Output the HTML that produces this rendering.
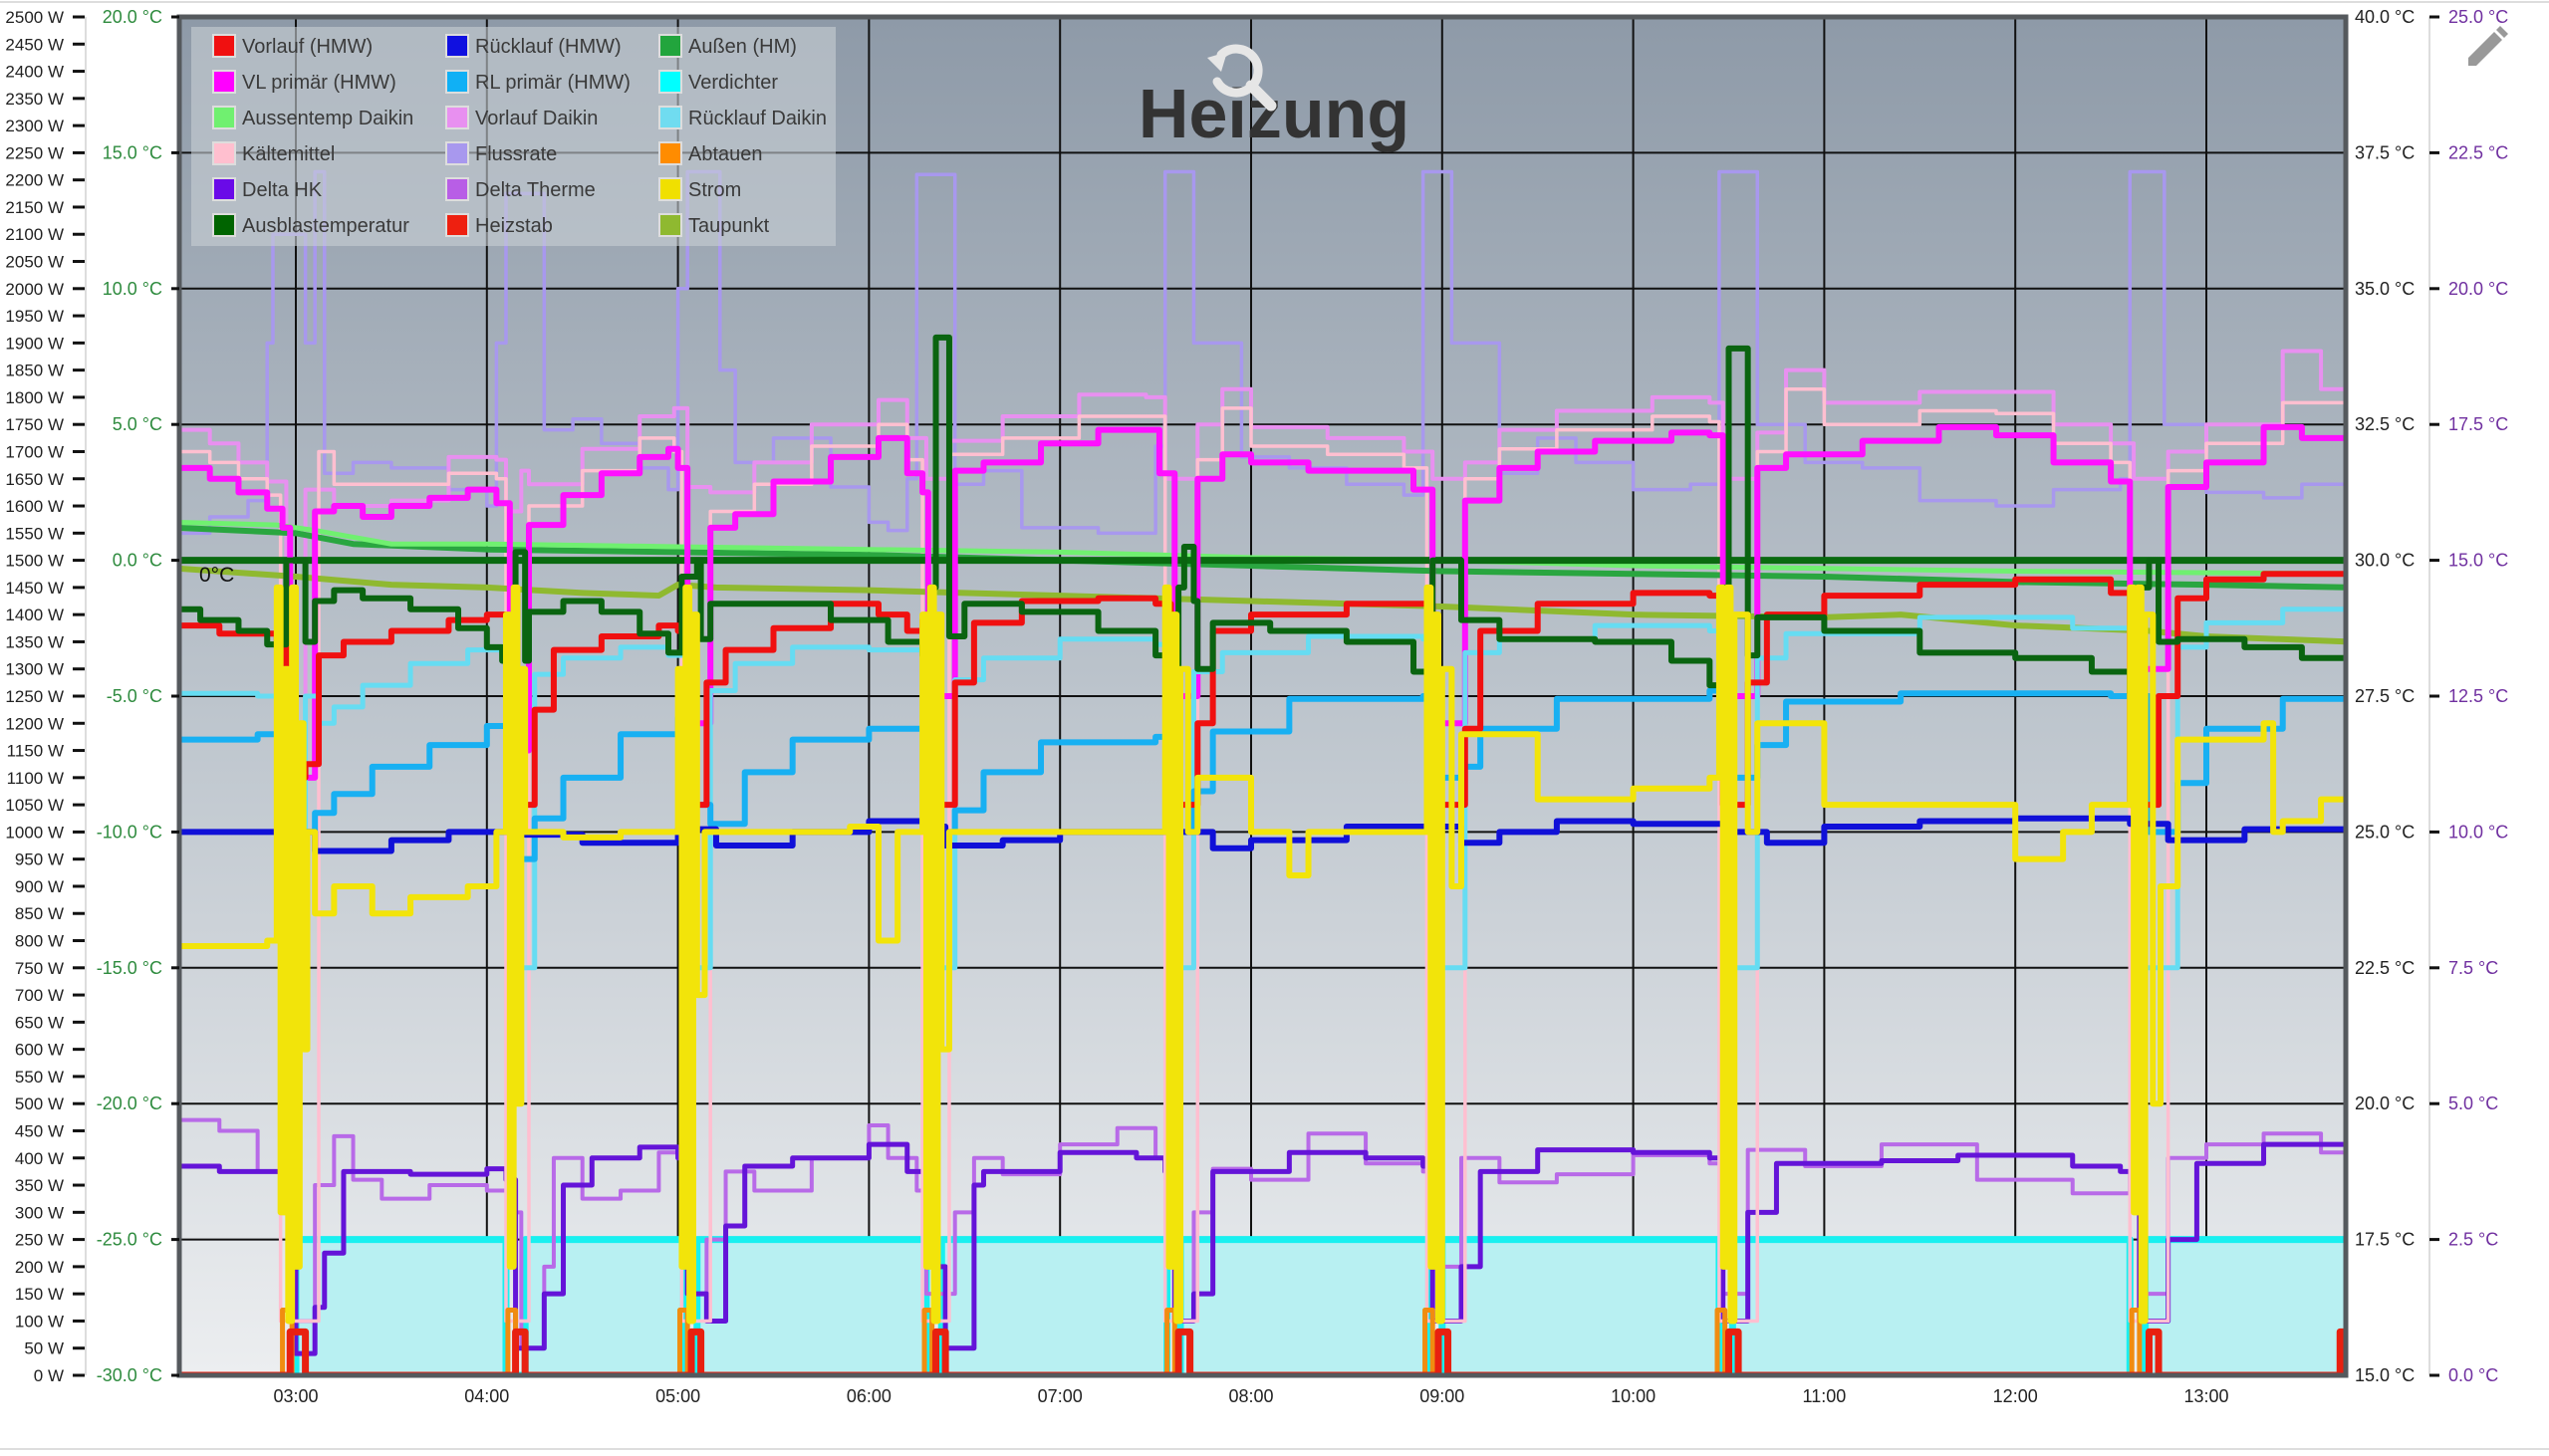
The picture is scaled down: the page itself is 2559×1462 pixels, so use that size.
<!DOCTYPE html>
<html><head><meta charset="utf-8"><title>Heizung</title>
<style>
html,body{margin:0;padding:0;background:#fff;}
body{width:2559px;height:1457px;overflow:hidden;font-family:"Liberation Sans",sans-serif;}
svg text{font-family:"Liberation Sans",sans-serif;}
</style></head>
<body>
<svg id="chart" width="2559" height="1457" viewBox="0 0 2559 1457" xmlns="http://www.w3.org/2000/svg">
<defs>
<linearGradient id="bg" x1="0" y1="0" x2="0" y2="1">
<stop offset="0" stop-color="#8e9aa8"/>
<stop offset="0.5" stop-color="#bcc4cc"/>
<stop offset="1" stop-color="#eceef0"/>
</linearGradient>
<clipPath id="plotclip"><rect x="180" y="17" width="2175" height="1364"/></clipPath>
</defs>
<line x1="0" y1="2" x2="2559" y2="2" stroke="#ddd" stroke-width="2"/>
<line x1="0" y1="1455" x2="2559" y2="1455" stroke="#ddd" stroke-width="2"/>
<rect x="180" y="17" width="2175" height="1364" fill="url(#bg)"/>
<g id="grid"></g>
<g id="series" clip-path="url(#plotclip)"></g>
<rect x="180" y="17" width="2175" height="1364" fill="none" stroke="#55595d" stroke-width="5"/>
<g id="axes"></g>
<text x="200" y="584" font-size="21" fill="#111">0°C</text>
<g>
<rect x="192" y="27" width="647" height="220" fill="#c8ced4" fill-opacity="0.6"/>
<g id="legend"></g>
</g>
<text x="1279" y="138" font-size="70" font-weight="bold" fill="#333" text-anchor="middle">Heizung</text>
<g stroke="#e6e6e6" fill="none" stroke-linecap="round">
<path d="M1226 55 A22 22 0 1 1 1222 82" stroke-width="9"/>
<line x1="1256" y1="86" x2="1276" y2="106" stroke-width="11"/>
<polygon points="1212,58 1232,52 1226,72" fill="#e6e6e6" stroke="none"/>
</g>
<g fill="#999">
<polygon points="2478,58 2504,32 2512,40 2486,66 2478,66"/>
<polygon points="2506,30 2510,26 2518,34 2514,38"/>
</g>
</svg>
<script>
// ---- axis data ----
const wTicks = [0,50,100,150,200,250,300,350,400,450,500,550,600,650,700,750,800,850,900,950,1000,1050,1100,1150,1200,1250,1300,1350,1400,1450,1500,1550,1600,1650,1700,1750,1800,1850,1900,1950,2000,2050,2100,2150,2200,2250,2300,2350,2400,2450,2500];
const cLeftTicks = [-30,-25,-20,-15,-10,-5,0,5,10,15,20];
const cRightTicks = [15,17.5,20,22.5,25,27.5,30,32.5,35,37.5,40];
const cPurpleTicks = [0,2.5,5,7.5,10,12.5,15,17.5,20,22.5,25];
const hourTicks = [3,4,5,6,7,8,9,10,11,12,13];
const hourLabels = ["03:00","04:00","05:00","06:00","07:00","08:00","09:00","10:00","11:00","12:00","13:00"];

// ---- series data (time in hours, temperatures in left-axis °C, power in W) ----
const vlPrimaer = [[2.38,3.4],[2.55,3.0],[2.7,2.5],[2.85,1.9],[2.93,1.2],[2.97,-8],[3.1,1.8],[3.2,2.0],[3.35,1.6],[3.5,2.0],[3.7,2.3],[3.9,2.6],[4.05,2.1],[4.12,-7],[4.22,1.3],[4.4,2.4],[4.6,3.2],[4.8,3.8],[4.95,4.1],[5.0,3.4],[5.05,-6],[5.17,1.2],[5.3,1.7],[5.5,2.9],[5.8,3.8],[6.05,4.5],[6.2,3.2],[6.28,2.5],[6.31,-5],[6.45,3.3],[6.6,3.6],[6.9,4.3],[7.2,4.8],[7.45,4.8],[7.52,3.2],[7.6,-5],[7.72,3.0],[7.85,3.9],[8.0,3.6],[8.3,3.3],[8.6,3.3],[8.85,2.6],[8.95,-6],[9.12,2.2],[9.3,3.4],[9.5,4.0],[9.8,4.4],[10.2,4.7],[10.4,4.6],[10.47,-5],[10.65,3.4],[10.8,3.9],[11.2,4.4],[11.6,4.9],[11.9,4.6],[12.2,3.6],[12.5,2.9],[12.6,-4],[12.8,2.7],[13.0,3.6],[13.3,4.9],[13.5,4.5],[13.75,4.3]];
const kaeltemittel = [[2.38,4.0],[2.55,3.6],[2.7,3.0],[2.85,2.4],[2.92,-28],[3.12,4.0],[3.2,2.8],[3.5,2.8],[3.8,3.2],[4.05,3.0],[4.1,-28],[4.22,2.0],[4.5,3.3],[4.8,4.5],[4.98,4.0],[5.02,-28],[5.17,1.8],[5.4,2.8],[5.7,4.2],[6.05,5.0],[6.2,3.7],[6.28,-28],[6.42,3.9],[6.7,4.5],[7.1,5.3],[7.45,5.3],[7.55,-28],[7.72,3.7],[7.85,5.6],[8.0,4.2],[8.4,3.9],[8.8,3.4],[8.92,-28],[9.12,3.0],[9.3,4.1],[9.6,4.8],[10.1,5.3],[10.4,5.1],[10.45,-28],[10.65,4.0],[10.8,6.3],[11.0,5.0],[11.5,5.5],[11.9,5.4],[12.2,4.3],[12.5,3.6],[12.6,-28],[12.8,3.3],[13.0,4.3],[13.4,5.8],[13.75,5.2]];
const vorlaufDaikin = [[2.38,4.8],[2.55,4.3],[2.7,3.6],[2.85,2.9],[2.95,-6],[3.05,2.6],[3.2,2.0],[3.5,2.2],[3.8,3.8],[4.05,3.7],[4.1,1.8],[4.18,3.3],[4.22,2.8],[4.5,4.1],[4.8,5.3],[4.98,5.6],[5.05,2.7],[5.17,2.5],[5.4,3.6],[5.7,5.0],[6.05,5.9],[6.2,4.5],[6.3,3],[6.42,4.4],[6.7,5.3],[7.1,6.1],[7.45,6.0],[7.55,3],[7.72,5.0],[7.85,6.3],[8.0,4.9],[8.4,4.5],[8.8,4.0],[8.95,3],[9.12,3.6],[9.3,4.8],[9.6,5.5],[10.1,6.0],[10.4,5.8],[10.47,3],[10.65,4.7],[10.8,7.0],[11.0,5.8],[11.5,6.2],[11.9,6.2],[12.2,5.0],[12.5,4.3],[12.62,3],[12.8,4.0],[13.0,5.0],[13.4,7.7],[13.6,6.3],[13.75,6.0]];
const flussrate = [[2.38,1.0],[2.55,1.6],[2.75,2.2],[2.85,8],[2.88,12],[3.0,12],[3.05,8],[3.1,14.3],[3.15,3.2],[3.3,3.6],[3.5,3.4],[3.8,2.6],[4.0,2.0],[4.05,8],[4.1,13.5],[4.25,13.5],[4.3,4.8],[4.45,5.2],[4.6,4.3],[4.8,3.4],[4.95,2.6],[5.0,10],[5.05,14.3],[5.18,14.3],[5.22,7],[5.3,3.6],[5.5,4.5],[5.8,2.7],[6.0,1.4],[6.1,1.1],[6.2,3.0],[6.25,14.2],[6.4,14.2],[6.45,2.8],[6.6,3.3],[6.8,1.2],[7.2,1.0],[7.5,4.2],[7.55,14.3],[7.68,14.3],[7.7,8.0],[7.85,8.0],[7.95,3.8],[8.2,3.4],[8.5,2.8],[8.8,2.4],[8.9,14.3],[9.02,14.3],[9.05,8],[9.2,8],[9.3,3.2],[9.5,4.5],[9.7,3.6],[10.0,2.6],[10.3,2.8],[10.45,14.3],[10.6,14.3],[10.65,5],[10.9,3.6],[11.2,3.4],[11.5,2.2],[11.9,2.0],[12.2,2.6],[12.55,3],[12.6,14.3],[12.72,14.3],[12.78,5.0],[13.0,2.5],[13.3,2.3],[13.5,2.8],[13.75,2.2]];
const ruecklaufDaikin = [[2.38,-4.9],[2.8,-5.0],[2.95,-15],[3.05,-5],[3.12,-6.0],[3.2,-5.4],[3.35,-4.6],[3.6,-3.8],[3.9,-3.3],[4.12,-3.5],[4.15,-15],[4.25,-4.2],[4.4,-3.6],[4.7,-3.2],[4.95,-3.5],[5.05,-15],[5.17,-4.8],[5.3,-3.8],[5.6,-3.2],[6.0,-3.3],[6.3,-3.8],[6.33,-15],[6.45,-4.4],[6.6,-3.6],[7.0,-2.9],[7.5,-3.1],[7.58,-15],[7.7,-4.1],[7.85,-3.4],[8.3,-2.8],[8.9,-2.9],[8.95,-15],[9.12,-3.4],[9.3,-2.9],[9.8,-2.4],[10.4,-2.6],[10.47,-15],[10.65,-3.6],[10.8,-2.7],[11.5,-2.1],[12.3,-2.5],[12.62,-2.4],[12.65,-15],[12.85,-3.2],[13.0,-2.3],[13.4,-1.8],[13.75,-2.1]];
const rlPrimaer = [[2.38,-6.6],[2.8,-6.4],[2.95,-10],[3.1,-9.3],[3.2,-8.6],[3.4,-7.6],[3.7,-6.8],[4.0,-6.1],[4.12,-6.2],[4.15,-11],[4.25,-9.5],[4.4,-8.0],[4.7,-6.4],[5.0,-5.8],[5.05,-9],[5.17,-9.7],[5.35,-7.8],[5.6,-6.6],[6.0,-6.2],[6.3,-6.5],[6.35,-10],[6.45,-9.2],[6.6,-7.8],[6.9,-6.7],[7.5,-6.5],[7.6,-10],[7.7,-8.5],[7.8,-6.3],[8.2,-5.1],[8.9,-5.0],[8.95,-8],[9.1,-7.6],[9.2,-6.2],[9.6,-5.1],[10.4,-4.8],[10.5,-8],[10.65,-6.8],[10.8,-5.2],[11.4,-4.9],[12.0,-4.9],[12.5,-5.0],[12.62,-5],[12.7,-10],[12.85,-8.2],[13.0,-6.2],[13.4,-5.1],[13.75,-4.9]];
const vorlaufHMW = [[2.38,-2.4],[2.6,-2.7],[2.9,-3.2],[2.95,-8],[3.05,-7.5],[3.12,-3.5],[3.25,-3.0],[3.5,-2.6],[3.8,-2.2],[4.0,-2.0],[4.1,-2.4],[4.15,-9],[4.25,-5.5],[4.35,-3.3],[4.6,-2.8],[4.9,-2.4],[5.0,-2.6],[5.05,-9],[5.15,-4.5],[5.25,-3.3],[5.5,-2.5],[5.8,-1.6],[6.05,-2.0],[6.2,-2.6],[6.28,-2.2],[6.3,-9],[6.45,-4.5],[6.55,-2.3],[6.8,-1.5],[7.2,-1.4],[7.5,-1.6],[7.58,-9],[7.72,-6],[7.8,-2.6],[8.0,-2.0],[8.5,-1.6],[8.9,-1.6],[8.95,-9],[9.12,-6.2],[9.2,-2.6],[9.5,-1.6],[10.0,-1.2],[10.4,-1.3],[10.47,-9],[10.6,-4.5],[10.7,-2.0],[11.0,-1.3],[11.5,-0.9],[12.0,-0.7],[12.5,-1.2],[12.6,-9],[12.75,-5],[12.85,-1.4],[13.0,-0.7],[13.3,-0.5],[13.75,-0.6]];
const ruecklaufHMW = [[2.38,-10.0],[3.1,-10.7],[3.5,-10.3],[3.8,-10.0],[4.2,-10.1],[4.5,-10.4],[5.0,-9.9],[5.2,-10.5],[5.6,-10.0],[6.0,-9.6],[6.35,-9.8],[6.4,-10.5],[6.7,-10.3],[7.0,-10.0],[7.6,-10.0],[7.8,-10.6],[8.0,-10.3],[8.5,-9.8],[9.0,-9.8],[9.1,-10.4],[9.3,-10.0],[9.6,-9.6],[10.0,-9.7],[10.5,-10.0],[10.7,-10.4],[11.0,-9.8],[11.5,-9.6],[12.0,-9.5],[12.6,-9.7],[12.8,-10.3],[13.2,-9.9],[13.75,-9.6]];
const aussenHM = [[2.38,1.2],[3.0,1.0],[3.3,0.6],[4.0,0.4],[5.0,0.3],[6.0,0.2],[7.0,0.0],[8.0,-0.2],[9.0,-0.4],[10,-0.5],[11,-0.6],[12,-0.8],[13,-0.9],[13.75,-1.0]];
const aussenDaikin = [[2.38,1.4],[2.9,1.3],[3.1,1.1],[3.5,0.6],[4,0.6],[5,0.5],[6,0.4],[7,0.3],[8,0.1],[9,0],[10,-0.2],[11,-0.3],[12,-0.4],[13.75,-0.5]];
const zeroLine = [[2.38,0],[13.75,0]];
const taupunkt = [[2.38,-0.3],[3,-0.6],[3.5,-0.9],[4,-1.0],[4.5,-1.2],[4.9,-1.3],[5.0,-0.9],[5.2,-1.0],[6,-1.1],[7,-1.3],[8,-1.5],[9,-1.7],[10,-2.0],[11,-2.1],[11.4,-2.0],[12,-2.4],[12.7,-2.6],[13,-2.8],[13.75,-3.0]];
const ausblas = [[2.38,-1.8],[2.5,-2.2],[2.7,-2.6],[2.85,-3.1],[2.95,0],[3.05,-3.0],[3.1,-1.5],[3.2,-1.1],[3.35,-1.4],[3.6,-1.8],[3.85,-2.5],[4.0,-3.2],[4.08,-3.7],[4.15,0.3],[4.2,-3.7],[4.22,-1.9],[4.4,-1.5],[4.6,-1.9],[4.8,-2.7],[4.95,-3.4],[5.02,-0.6],[5.1,0],[5.12,-2.9],[5.17,-1.6],[5.5,-1.6],[5.8,-2.2],[6.1,-3.0],[6.28,-3.5],[6.32,-1.0],[6.35,8.2],[6.4,8.2],[6.42,-2.8],[6.5,-1.6],[6.8,-1.9],[7.2,-2.6],[7.5,-3.5],[7.58,-4.0],[7.62,-1],[7.65,0.5],[7.7,-1.5],[7.72,-4.0],[7.8,-2.3],[8.1,-2.6],[8.5,-3.0],[8.85,-4.1],[8.95,0],[9.05,0],[9.1,-2.2],[9.3,-2.9],[9.8,-3.0],[10.2,-3.7],[10.4,-4.6],[10.47,-1],[10.5,7.8],[10.57,7.8],[10.6,-3.5],[10.65,-2.1],[11.0,-2.6],[11.5,-3.4],[12.0,-3.6],[12.4,-4.1],[12.6,-4.9],[12.65,-1],[12.7,0],[12.75,-3],[12.85,-2.9],[13.2,-3.2],[13.5,-3.6],[13.75,-3.8]];
const deltaHK = [[2.38,-22.3],[2.6,-22.5],[2.95,-23],[3.0,-29.2],[3.1,-27.5],[3.15,-25.5],[3.25,-22.5],[3.6,-22.6],[4.0,-22.4],[4.1,-22.8],[4.15,-29],[4.3,-27],[4.4,-23],[4.55,-22.0],[4.8,-21.6],[5.0,-22],[5.05,-27],[5.15,-28],[5.25,-24.5],[5.35,-22.3],[5.6,-22.0],[6.0,-21.5],[6.2,-22.5],[6.3,-23],[6.35,-26],[6.4,-29],[6.55,-23],[6.6,-22.5],[7.0,-21.8],[7.4,-22.0],[7.55,-22.5],[7.6,-28],[7.7,-27],[7.8,-22.5],[8.2,-21.8],[8.6,-22.0],[8.9,-22.3],[8.95,-28],[9.1,-26],[9.2,-22.5],[9.5,-21.7],[10.0,-21.8],[10.4,-22.0],[10.47,-28],[10.6,-24],[10.75,-22.2],[11.3,-22.1],[11.7,-21.9],[12.3,-22.3],[12.55,-22.5],[12.65,-28],[12.8,-25],[12.95,-22.2],[13.3,-21.5],[13.75,-21.9]];
const deltaTherme = [[2.38,-20.6],[2.6,-21.0],[2.8,-22.5],[2.95,-23.5],[3.0,-28],[3.1,-23],[3.2,-21.2],[3.3,-22.8],[3.45,-23.5],[3.7,-23.0],[4.0,-23.2],[4.12,-24],[4.18,-29],[4.3,-26],[4.35,-22],[4.5,-23.5],[4.7,-23.2],[4.9,-21.8],[5.0,-22],[5.05,-27],[5.15,-25],[5.25,-22.5],[5.4,-23.2],[5.7,-22.0],[6.0,-20.8],[6.1,-22],[6.25,-23.2],[6.3,-27],[6.45,-24],[6.55,-22.0],[6.7,-22.6],[7.0,-21.5],[7.3,-20.9],[7.5,-22],[7.6,-28],[7.7,-24],[7.8,-22.4],[8.0,-22.8],[8.3,-21.1],[8.6,-22.2],[8.9,-22.5],[8.95,-26],[9.1,-22],[9.3,-22.9],[9.6,-22.6],[10.0,-21.9],[10.4,-22.2],[10.47,-27],[10.6,-21.7],[10.9,-22.3],[11.3,-21.5],[11.8,-22.8],[12.3,-23.3],[12.6,-22.5],[12.65,-27],[12.8,-22],[13.0,-21.5],[13.3,-21.1],[13.6,-21.8],[13.75,-22.0]];
const strom = [[2.38,790],[2.85,800],[2.9,1450],[2.92,300],[2.94,1300],[2.96,100],[2.98,1450],[3.0,200],[3.02,1200],[3.04,600],[3.06,1000],[3.1,850],[3.2,900],[3.4,850],[3.6,880],[3.9,900],[4.05,1000],[4.1,1400],[4.12,200],[4.14,1450],[4.16,500],[4.18,1300],[4.2,1000],[4.4,990],[4.7,1000],[4.9,1000],[5.0,1300],[5.02,200],[5.04,1450],[5.06,100],[5.08,1400],[5.1,700],[5.14,1000],[5.5,1000],[5.9,1010],[6.05,800],[6.15,1000],[6.28,1400],[6.3,200],[6.32,1450],[6.34,100],[6.36,1400],[6.38,600],[6.42,1000],[7.0,1000],[7.5,1000],[7.55,1450],[7.57,200],[7.59,1400],[7.61,100],[7.63,1300],[7.67,1000],[7.72,1100],[8.0,1000],[8.2,920],[8.3,1000],[8.88,1000],[8.92,1450],[8.94,200],[8.96,1400],[8.98,100],[9.0,1300],[9.05,900],[9.1,1180],[9.45,1180],[9.5,1060],[10.0,1080],[10.4,1100],[10.45,1450],[10.47,200],[10.49,1450],[10.51,100],[10.53,1400],[10.6,1000],[10.65,1200],[10.95,1200],[11.0,1050],[11.8,1050],[12.0,950],[12.25,1000],[12.4,1050],[12.55,1050],[12.6,1450],[12.62,300],[12.64,1450],[12.66,100],[12.68,1400],[12.72,500],[12.76,900],[12.85,1170],[13.3,1200],[13.35,1000],[13.4,1020],[13.6,1060],[13.75,1060]];
const verdichter = [[2.38,0],[3.0,250],[4.1,0],[4.2,250],[5.03,0],[5.1,250],[6.3,0],[6.38,250],[7.56,0],[7.63,250],[8.93,0],[9.0,250],[10.45,0],[10.52,250],[12.6,0],[12.68,250],[13.75,250]];
const heizstab = [[2.38,0],[2.97,80],[3.05,0],[4.15,80],[4.2,0],[5.07,80],[5.12,0],[6.35,80],[6.4,0],[7.62,80],[7.68,0],[8.98,80],[9.03,0],[10.5,80],[10.55,0],[12.7,80],[12.75,0],[13.7,80],[13.75,80]];
const abtauen = [[2.38,0],[2.93,120],[2.98,0],[4.11,120],[4.15,0],[5.01,120],[5.05,0],[6.29,120],[6.33,0],[7.56,120],[7.6,0],[8.91,120],[8.95,0],[10.44,120],[10.48,0],[12.61,120],[12.65,0],[13.73,200],[13.75,200]];

const legendNames = ["Vorlauf (HMW)","Rücklauf (HMW)","Außen (HM)","VL primär (HMW)","RL primär (HMW)","Verdichter","Aussentemp Daikin","Vorlauf Daikin","Rücklauf Daikin","Kältemittel","Flussrate","Abtauen","Delta HK","Delta Therme","Strom","Ausblastemperatur","Heizstab","Taupunkt"];
const legendColors = ["#f01010","#1010e0","#22a53d","#ff00ff","#10b0f5","#00ffff","#70f070","#e890f0","#70dcf0","#ffbfcf","#a898ee","#ff8c00","#6a0ae8","#b85ee6","#f0e000","#006400","#ee2010","#8fb930"];

// ---- scales ----
const X = h => 297 + (h - 3) * 191.8;
const YC = v => 17 + (20 - v) * 27.28;
const YW = w => 1381 - w * 0.5456;
const NS = "http://www.w3.org/2000/svg";
const mk = (tag, attrs, parent) => { const e = document.createElementNS(NS, tag); for (const k in attrs) e.setAttribute(k, attrs[k]); parent.appendChild(e); return e; };

const grid = document.getElementById('grid');
const axes = document.getElementById('axes');
const series = document.getElementById('series');

hourTicks.forEach((h, i) => {
  const gl = mk('line', {x1: X(h), x2: X(h), y1: 17, y2: 1381, stroke: '#111', 'stroke-width': 2}, grid);
  
  
  const t = mk('text', {x: X(h), y: 1408, 'font-size': 18, fill: '#222', 'text-anchor': 'middle'}, axes);
  t.textContent = hourLabels[i];
  
  
});
cLeftTicks.forEach(v => {
  const gl = mk('line', {x1: 180, x2: 2355, y1: YC(v), y2: YC(v), stroke: '#111', 'stroke-width': 2}, grid);
  
  
  mk('line', {x1: 172, x2: 180, y1: YC(v), y2: YC(v), stroke: '#111', 'stroke-width': 3}, axes);
  const t = mk('text', {x: 163, y: YC(v) + 6, 'font-size': 18, fill: '#2e8b3e', 'text-anchor': 'end'}, axes);
  t.textContent = v.toFixed(1) + ' °C';
  
  
});
mk('line', {x1: 86, x2: 86, y1: 17, y2: 1381, stroke: '#ddd', 'stroke-width': 2}, axes);
wTicks.forEach(w => {
  mk('line', {x1: 73, x2: 85, y1: YW(w), y2: YW(w), stroke: '#111', 'stroke-width': 3}, axes);
  const t = mk('text', {x: 64, y: YW(w) + 6, 'font-size': 17, fill: '#222', 'text-anchor': 'end'}, axes);
  t.textContent = w + ' W';
  
  
});
cRightTicks.forEach((v, i) => {
  const y = 1381 - i * 136.4;
  const t = mk('text', {x: 2364, y: y + 6, 'font-size': 18, fill: '#222'}, axes);
  t.textContent = v.toFixed(1) + ' °C';
  
  
});
mk('line', {x1: 2439, x2: 2439, y1: 17, y2: 1381, stroke: '#ddd', 'stroke-width': 2}, axes);
cPurpleTicks.forEach((v, i) => {
  const y = 1381 - i * 136.4;
  mk('line', {x1: 2439, x2: 2449, y1: y, y2: y, stroke: '#111', 'stroke-width': 3}, axes);
  const t = mk('text', {x: 2458, y: y + 6, 'font-size': 18, fill: '#7030a0'}, axes);
  t.textContent = v.toFixed(1) + ' °C';
  
  
});

function pathD(data, yf, step) {
  let d = '';
  data.forEach((p, i) => {
    const x = X(p[0]), y = yf(p[1]);
    if (i === 0) d += 'M' + x + ' ' + y;
    else if (step) d += 'H' + x + 'V' + y;
    else d += 'L' + x + ' ' + y;
  });
  return d;
}
function line(name, data, yf, color, width, step) {
  const p = mk('path', {d: pathD(data, yf, step), fill: 'none', stroke: color, 'stroke-width': width, 'stroke-linejoin': 'round'}, series);
  
  
}
const vf = mk('path', {d: pathD(verdichter, YW, true) + 'V' + YW(0) + 'H' + X(2.38) + 'Z', fill: '#b8f0f2', stroke: 'none'}, series);


line('verdichter-line', verdichter, YW, '#18f0f0', 7, true);
line('delta-therme-line', deltaTherme, YC, '#b86ae8', 4, true);
line('delta-hk-line', deltaHK, YC, '#6414d8', 5, true);
line('flussrate-line', flussrate, YC, '#a898ee', 3.5, true);
line('vorlauf-daikin-line', vorlaufDaikin, YC, '#e890f0', 4, true);
line('kaeltemittel-line', kaeltemittel, YC, '#ffbfd0', 3.5, true);
line('aussen-hm-line', aussenHM, YC, '#2aa640', 6, false);
line('aussentemp-daikin-line', aussenDaikin, YC, '#70f070', 5, false);
line('zero-line', zeroLine, YC, '#0a6a10', 7, false);
line('taupunkt-line', taupunkt, YC, '#8fb930', 6, false);
line('vl-primaer-line', vlPrimaer, YC, '#ff10ff', 6, true);
line('ruecklauf-daikin-line', ruecklaufDaikin, YC, '#66dcf2', 5, true);
line('rl-primaer-line', rlPrimaer, YC, '#18b0f2', 6, true);
line('vorlauf-hmw-line', vorlaufHMW, YC, '#f01010', 6, true);
line('ruecklauf-hmw-line', ruecklaufHMW, YC, '#1010d8', 6, true);
line('ausblastemperatur-line', ausblas, YC, '#0a6410', 6, true);
line('abtauen-line', abtauen, YW, '#f08c10', 5, true);
line('strom-line', strom, YW, '#f2e40a', 6, true);
line('heizstab-line', heizstab, YW, '#e82010', 7, true);

const lg = document.getElementById('legend');
const colX = [214, 448, 662];
legendNames.forEach((n, i) => {
  const c = i % 3, r = Math.floor(i / 3);
  const y = 46 + r * 36;
  const sw = mk('rect', {x: colX[c], y: y - 11, width: 22, height: 22, fill: legendColors[i], stroke: '#ddd', 'stroke-width': 2}, lg);
  
  
  const t = mk('text', {x: colX[c] + 29, y: y + 7, 'font-size': 20, fill: '#3a3a3a'}, lg);
  t.textContent = n;
  
  
});
</script>
</body></html>
